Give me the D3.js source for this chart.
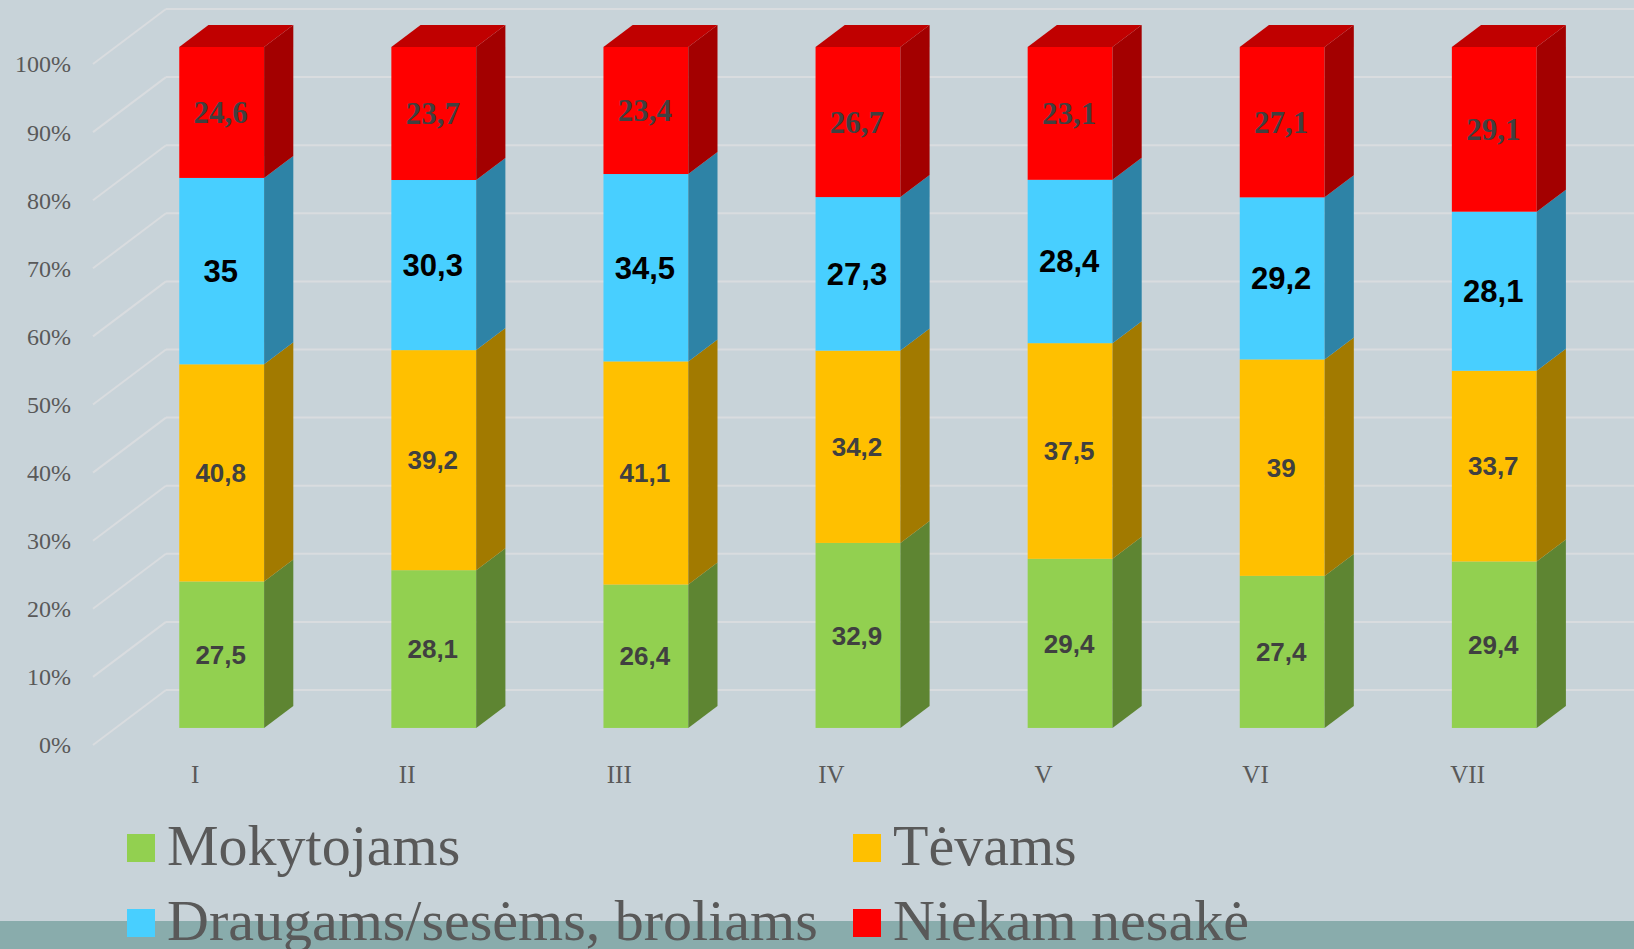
<!DOCTYPE html>
<html>
<head>
<meta charset="utf-8">
<script src="https://cdn.jsdelivr.net/npm/d3@7"></script>
<style>
  html, body { margin: 0; padding: 0; background: #c8d3d9; }
  svg { display: block; }
</style>
</head>
<body>
<svg id="chart" width="1634" height="949"></svg>
<script>
// ---- Data ----
const categories = ["I", "II", "III", "IV", "V", "VI", "VII"];
const mokytojams = [27.5, 28.1, 26.4, 32.9, 29.4, 27.4, 29.4];
const tevams     = [40.8, 39.2, 41.1, 34.2, 37.5, 39, 33.7];
const draugams   = [35, 30.3, 34.5, 27.3, 28.4, 29.2, 28.1];
const niekam     = [24.6, 23.7, 23.4, 26.7, 23.1, 27.1, 29.1];
const seriesNames = ["Mokytojams", "Tėvams", "Draugams/sesėms, broliams", "Niekam nesakė"];
const yTicks = [0, 10, 20, 30, 40, 50, 60, 70, 80, 90, 100];

// ---- Styles ----
const frontColors = ["#92d050", "#ffc000", "#48cfff", "#ff0000"];
const sideColors  = ["#5e8532", "#a27a00", "#2e83a6", "#a30000"];
const topColor = "#c00000";

const svg = d3.select("#chart");
const W = 1634, H = 949;

svg.append("rect").attr("width", W).attr("height", H).attr("fill", "#c8d3d9");

// 3D projection parameters
const DX = 73, DY = 55;      // full depth offset
const zFront = 0.31, zBack = 0.71;

const x = d3.scaleBand().domain(categories).range([93, 93 + 7 * 212.1])
  .paddingInner(0.6).paddingOuter(0.3);
const y = d3.scaleLinear().domain([0, 100]).range([745, 64]);
const P = (px, v, z) => [px + z * DX, y(v) - z * DY];

// stack (100% normalized)
const series = [mokytojams, tevams, draugams, niekam];
const rows = categories.map((c, i) => {
  const obj = { cat: c };
  seriesNames.forEach((s, k) => obj[s] = series[k][i]);
  return obj;
});
const stacked = d3.stack().keys(seriesNames).offset(d3.stackOffsetExpand)(rows);

// ---- Gridlines ----
const grid = svg.append("g").attr("stroke", "#d9dcdf").attr("stroke-width", 2).attr("fill", "none");
yTicks.forEach(t => {
  const a = P(93, t, 0), b = P(93, t, 1);
  grid.append("line").attr("x1", a[0]).attr("y1", a[1]).attr("x2", b[0]).attr("y2", b[1]);
  grid.append("line").attr("x1", b[0]).attr("y1", b[1]).attr("x2", W).attr("y2", b[1]);
});

// ---- Y axis labels ----
svg.append("g").selectAll("text").data(yTicks).join("text")
  .attr("x", 71).attr("y", d => y(d)).attr("dy", "0.35em")
  .attr("text-anchor", "end")
  .attr("font-family", "Liberation Serif, serif").attr("font-size", 24)
  .attr("fill", "#595959")
  .text(d => d + "%");

// ---- Bars ----
const bw = x.bandwidth();
const poly = pts => "M" + pts.map(p => p.join(",")).join("L") + "Z";
const barsG = svg.append("g");
stacked.forEach((layer, k) => {
  layer.forEach((d, i) => {
    const cat = categories[i];
    const x0 = x(cat), x1 = x(cat) + bw;
    const v0 = d[0] * 100, v1 = d[1] * 100;
    // front face
    const fl = P(x0, v1, zFront), fr = P(x1, v0, zFront);
    barsG.append("rect").attr("x", fl[0]).attr("y", fl[1])
      .attr("width", fr[0] - fl[0]).attr("height", fr[1] - fl[1])
      .attr("fill", frontColors[k]);
    // side face
    barsG.append("path").attr("d", poly([
      P(x1, v0, zFront), P(x1, v1, zFront), P(x1, v1, zBack), P(x1, v0, zBack)
    ])).attr("fill", sideColors[k]);
    // top face
    if (k === stacked.length - 1) {
      barsG.append("path").attr("d", poly([
        P(x0, v1, zFront), P(x1, v1, zFront), P(x1, v1, zBack), P(x0, v1, zBack)
      ])).attr("fill", topColor);
    }
  });
});

// ---- Value labels ----
const fmt = v => String(v).replace(".", ",");
const labelStyle = [
  { family: "Liberation Sans, Arial, sans-serif", size: 26, weight: "bold", fill: "#404040" },
  { family: "Liberation Sans, Arial, sans-serif", size: 26, weight: "bold", fill: "#404040" },
  { family: "Liberation Sans, Arial, sans-serif", size: 31, weight: "bold", fill: "#000000" },
  { family: "Liberation Serif, serif", size: 31, weight: "bold", fill: "#404040" }
];
const labG = svg.append("g");
stacked.forEach((layer, k) => {
  const st = labelStyle[k];
  layer.forEach((d, i) => {
    const cat = categories[i];
    const cx = x(cat) + bw / 2;
    const vm = (d[0] + d[1]) / 2 * 100;
    const p = P(cx, vm, zFront);
    labG.append("text").attr("x", p[0] - 1).attr("y", p[1]).attr("dy", "0.35em")
      .attr("text-anchor", "middle")
      .attr("font-family", st.family).attr("font-size", st.size)
      .attr("font-weight", st.weight).attr("fill", st.fill)
      .text(fmt(series[k][i]));
  });
});

// ---- Category labels ----
svg.append("g").selectAll("text").data(categories).join("text")
  .attr("x", d => x(d) + bw / 2 - 4).attr("y", 774).attr("dy", "0.35em")
  .attr("text-anchor", "middle")
  .attr("font-family", "Liberation Serif, serif").attr("font-size", 25)
  .attr("fill", "#595959")
  .text(d => d);

// ---- Bottom band ----
svg.append("rect").attr("x", 0).attr("y", 921).attr("width", W).attr("height", H - 921)
  .attr("fill", "#89acac");

// ---- Legend ----
const legendPos = [
  { sx: 127, sy: 834, tx: 167, ty: 865 },
  { sx: 853, sy: 834, tx: 893, ty: 865 },
  { sx: 127, sy: 909, tx: 167, ty: 940 },
  { sx: 853, sy: 909, tx: 893, ty: 940 }
];
const leg = svg.append("g");
seriesNames.forEach((s, k) => {
  const p = legendPos[k];
  leg.append("rect").attr("x", p.sx).attr("y", p.sy).attr("width", 28).attr("height", 28)
    .attr("fill", frontColors[k]);
  leg.append("text").attr("x", p.tx).attr("y", p.ty)
    .attr("font-family", "Liberation Serif, serif").attr("font-size", 58)
    .attr("fill", "#595959").text(s);
});
</script>
</body>
</html>
